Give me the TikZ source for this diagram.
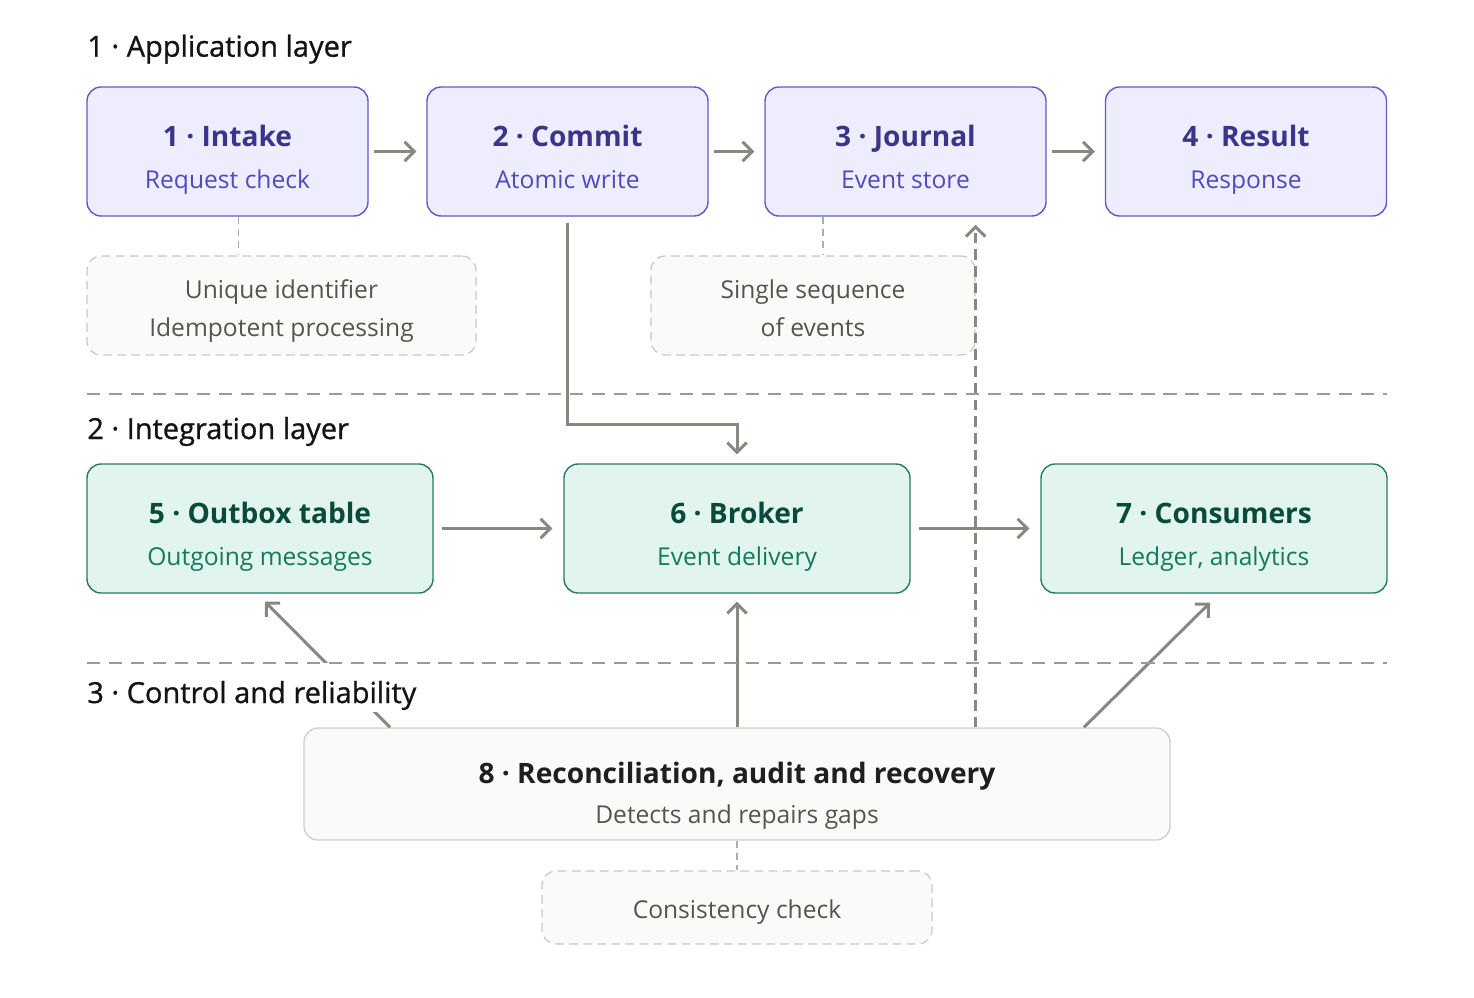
\documentclass[tikz,border=0pt]{standalone}
\usepackage{fontspec}
\setmainfont{Open Sans}
\newfontfamily\layerfont{Open Sans}[FakeBold=0.9]
\usepackage{tikz}
\usetikzlibrary{positioning, arrows.meta, calc}
\definecolor{AppFill}{HTML}{EEEDFE}
\definecolor{AppLine}{HTML}{6258CC}
\definecolor{AppTitle}{HTML}{3C3489}
\definecolor{AppSub}{HTML}{5349BE}
\definecolor{IntFill}{HTML}{E1F4EE}
\definecolor{IntLine}{HTML}{2A7A62}
\definecolor{IntTitle}{HTML}{0A4A3A}
\definecolor{IntSub}{HTML}{137A5E}
\definecolor{CtlFill}{HTML}{FAFAF8}
\definecolor{CtlLine}{HTML}{D0D0CC}
\definecolor{NoteLine}{HTML}{C8C8C4}
\definecolor{NoteText}{HTML}{55544F}
\definecolor{ArrGray}{HTML}{888780}
\definecolor{SepGray}{HTML}{9A9A96}

\begin{document}
\begin{tikzpicture}[
      box/.style={rectangle, rounded corners=8pt, line width=0.8pt, inner sep=0pt,
                  minimum width=5.62cm, minimum height=2.58cm},
      app/.style={box, fill=AppFill, draw=AppLine},
      int/.style={box, fill=IntFill, draw=IntLine, minimum width=6.92cm},
      ctl/.style={box, fill=CtlFill, draw=CtlLine, minimum width=17.32cm, minimum height=2.24cm},
      note/.style={rectangle, rounded corners=8pt, fill=CtlFill, draw=NoteLine, line width=0.7pt,
                   dash pattern=on 5pt off 3pt, inner sep=0pt, minimum height=1.98cm},
      ttl/.style={anchor=base, font=\fontsize{16}{19}\selectfont\bfseries},
      sub/.style={anchor=base, font=\fontsize{14}{17}\selectfont},
      notetxt/.style={anchor=base, text=NoteText, font=\fontsize{14}{17}\selectfont},
      layer/.style={anchor=base west, fill=white, inner xsep=0pt, inner ysep=0pt, text=black!92,
                    text height=22.7pt, text depth=5pt, font=\fontsize{16.5}{20}\selectfont\layerfont},
      sep/.style={draw=SepGray, line width=0.7pt, dash pattern=on 7.5pt off 5pt},
      link/.style={draw=SepGray!80, line width=0.6pt, dash pattern=on 4pt off 3pt},
      arr/.style={draw=ArrGray, line width=1.7pt, -{Straight Barb[length=5.5pt,width=11pt]}}
    ]
    \useasboundingbox (0,0) rectangle (29.48,-19.94);

    % Application layer
    \node[app] (b1) at (4.55,-3.03)  {};
    \node[app] (b2) at (11.35,-3.03) {};
    \node[app] (b3) at (18.11,-3.03) {};
    \node[app] (b4) at (24.92,-3.03) {};
    \node[ttl, text=AppTitle] (t1) at ([yshift=0.094cm]b1.center) {1 · Intake};
    \node[sub, text=AppSub]   (s1) at ([yshift=-0.74cm]b1.center) {Request check};
    \node[ttl, text=AppTitle] (t2) at ([yshift=0.094cm]b2.center) {2 · Commit};
    \node[sub, text=AppSub]   (s2) at ([yshift=-0.74cm]b2.center) {Atomic write};
    \node[ttl, text=AppTitle] (t3) at ([yshift=0.094cm]b3.center) {3 · Journal};
    \node[sub, text=AppSub]   (s3) at ([yshift=-0.74cm]b3.center) {Event store};
    \node[ttl, text=AppTitle] (t4) at ([yshift=0.094cm]b4.center) {4 · Result};
    \node[sub, text=AppSub]   (s4) at ([yshift=-0.74cm]b4.center) {Response};

    % Notes
    \node[note, minimum width=7.78cm] (n1) at (5.63,-6.11) {};
    \node[notetxt] (n1a) at ([yshift=0.144cm]n1.center)  {Unique identifier};
    \node[notetxt] (n1b) at ([yshift=-0.624cm]n1.center) {Idempotent processing};
    \node[note, minimum width=6.48cm] (n2) at (16.26,-6.11) {};
    \node[notetxt] (n2a) at ([yshift=0.144cm]n2.center)  {Single sequence};
    \node[notetxt] (n2b) at ([yshift=-0.624cm]n2.center) {of events};
    \coordinate (k1) at (4.77,0);
    \coordinate (k2) at (16.46,0);
    \draw[link] (k1 |- b1.south) -- (k1 |- n1.north);
    \draw[link] (k2 |- b3.south) -- (k2 |- n2.north);

    % Integration layer
    \node[int] (b5) at (5.20,-10.57)  {};
    \node[int] (b6) at (14.74,-10.57) {};
    \node[int] (b7) at (24.28,-10.57) {};
    \node[ttl, text=IntTitle] (t5) at ([yshift=0.104cm]b5.center) {5 · Outbox table};
    \node[sub, text=IntSub]   (s5) at ([yshift=-0.73cm]b5.center) {Outgoing messages};
    \node[ttl, text=IntTitle] (t6) at ([yshift=0.104cm]b6.center) {6 · Broker};
    \node[sub, text=IntSub]   (s6) at ([yshift=-0.73cm]b6.center) {Event delivery};
    \node[ttl, text=IntTitle] (t7) at ([yshift=0.104cm]b7.center) {7 · Consumers};
    \node[sub, text=IntSub]   (s7) at ([yshift=-0.73cm]b7.center) {Ledger, analytics};

    % Control and reliability
    \node[ctl] (b8) at (14.74,-15.68) {};
    \node[ttl, text=black!88]  (t8) at ([yshift=0.014cm]b8.center) {8 · Reconciliation, audit and recovery};
    \node[sub, text=NoteText]  (s8) at ([yshift=-0.786cm]b8.center) {Detects and repairs gaps};
    \node[note, minimum width=7.8cm, minimum height=1.46cm] (n3) at (14.74,-18.15) {};
    \node[notetxt] (n3a) at ([yshift=-0.216cm]n3.center) {Consistency check};
    \draw[link] (b8.south) -- (n3.north);

    % Arrows
    \draw[arr] ([xshift=0.1cm]b1.east) -- ([xshift=-0.2cm]b2.west);
    \draw[arr] ([xshift=0.1cm]b2.east) -- ([xshift=-0.2cm]b3.west);
    \draw[arr] ([xshift=0.1cm]b3.east) -- ([xshift=-0.2cm]b4.west);
    \draw[arr] ([xshift=0.16cm]b5.east) -- ([xshift=-0.22cm]b6.west);
    \draw[arr] ([xshift=0.16cm]b6.east) -- ([xshift=-0.22cm]b7.west);
    \draw[arr] ([yshift=-0.12cm]b2.south) -- ++(0,-4.04) -| ([yshift=0.18cm]b6.north);
    \draw[arr] ($(b8.north west)!0.1!(b8.north east)$) -- ($(b5.south)+(0.1,-0.16)$);
    \draw[arr] (b8.north) -- ([yshift=-0.16cm]b6.south);
    \draw[arr] ($(b8.north west)!0.9!(b8.north east)$) -- ($(b7.south)+(-0.08,-0.18)$);
    \draw[arr, dash pattern=on 6pt off 3.5pt] (n2.east |- b8.north) -- ([yshift=-0.16cm]n2.east |- b3.south);

    % Layer labels
    \node[layer] (L1) at (1.74,-1.134) {1 · Application layer};
    \node[layer] (L2) at (1.74,-8.78)  {2 · Integration layer};
    \node[layer] (L3) at (1.74,-14.06) {3 · Control and reliability};

    % Separators
    \coordinate (e1) at (1.74,-7.88);
    \coordinate (e2) at (27.74,-7.88);
    \coordinate (e3) at (1.74,-13.26);
    \coordinate (e4) at (27.74,-13.26);
    \draw[sep] (e1) -- (e2);
    \draw[sep] (e3) -- (e4);
  \end{tikzpicture}
\end{document}
